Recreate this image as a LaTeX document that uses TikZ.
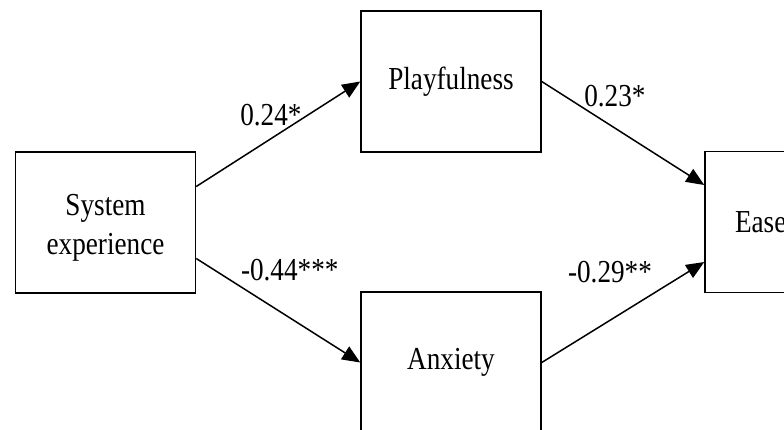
\documentclass[tikz,border=0pt]{standalone}
\usepackage{fontspec}
\setmainfont{Liberation Serif}[FakeStretch=0.85]
\usetikzlibrary{arrows.meta,positioning}
\tikzset {
  >={Triangle[length=18pt,width=15pt]},
  every node/.style={font=\fontsize{32}{39}\selectfont},
  box/.style={draw,line width=1.5pt,minimum width=180pt,minimum height=141pt,inner sep=0pt,align=center},
  link/.style={->,line width=1.5pt},
}

\begin{document}
\begin{tikzpicture}[x=1pt,y=-1pt]
  \useasboundingbox (0,0) rectangle (784,429);

  \node[box] (sys) at (105.5,222.5) {\rule{0pt}{32pt}System\\experience};
  \node[box] (play) at (451,81.5) {Playfulness};
  \node[box] (anx) at (451,362.5) {Anxiety};
  \node[box,text width=120pt,inner xsep=30pt,align=left] (ease) at (795,222) {Ease};

  \draw[link] ([yshift=36pt]sys.east) -- (play.west) node[pos=.455,yshift=24pt]{0.24*};
  \draw[link] ([yshift=-36pt]sys.east) -- (anx.west) node[pos=.57,yshift=48pt]{-0.44***};
  \draw[link] (play.east) -- ([yshift=37pt]ease.west) node[pos=.45,yshift=32pt]{0.23*};
  \draw[link] (anx.east) -- ([yshift=-40pt]ease.west) node[pos=.42,yshift=48pt]{-0.29**};
\end{tikzpicture}
\end{document}
